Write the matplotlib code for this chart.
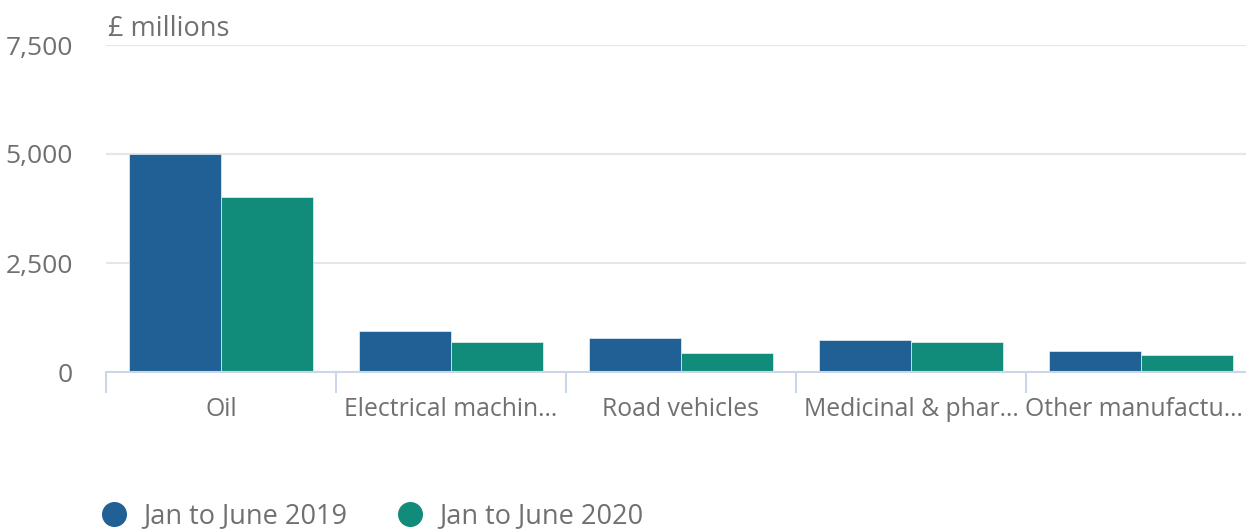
import numpy as np
import matplotlib
matplotlib.use("Agg")
import matplotlib.pyplot as plt
import matplotlib.transforms as mtransforms
from matplotlib.ticker import FuncFormatter, FixedLocator
from matplotlib.lines import Line2D

plt.rcParams["font.family"] = ["Open Sans", "DejaVu Sans"]

categories = ["Oil", "Electrical machin\u2026", "Road vehicles",
              "Medicinal & phar\u2026", "Other manufactu\u2026"]
jan_jun_2019 = [5000, 940, 780, 735, 480]
jan_jun_2020 = [4020, 690, 435, 690, 390]
series_names = ["Jan to June 2019", "Jan to June 2020"]
yticks = [0, 2500, 5000, 7500]

BLUE = "#206095"
GREEN = "#118c7b"
TXT = "#707070"
AXC = "#ccd6eb"
GRID = "#e6e6e6"

fig = plt.figure(figsize=(12.46, 5.30), dpi=100)
# plot area runs a little past the right edge of the image, as in the original
ax = fig.add_axes([106 / 1246, 1 - 372 / 530, 1150 / 1246, (372 - 45) / 530])

x = np.arange(len(categories))
w = 0.4
ax.bar(x - w / 2, jan_jun_2019, width=w, color=BLUE, edgecolor="white", linewidth=0.4, zorder=3)
ax.bar(x + w / 2, jan_jun_2020, width=w, color=GREEN, edgecolor="white", linewidth=0.4, zorder=3)

ax.set_xlim(-0.5, len(categories) - 0.5)
ax.set_ylim(0, 7500)
ax.set_yticks(yticks)
ax.yaxis.set_major_formatter(FuncFormatter(lambda v, p: f"{int(v):,}"))
ax.grid(axis="y", color=GRID, lw=1.5, zorder=0)
ax.set_axisbelow(True)

for s in ["top", "right", "left"]:
    ax.spines[s].set_visible(False)
ax.spines["bottom"].set_color(AXC)
ax.spines["bottom"].set_linewidth(1.5)
ax.spines["bottom"].set_zorder(4)

ax.tick_params(axis="y", length=0, pad=24, labelsize=19, labelcolor=TXT)
ax.set_xticks(x)
ax.set_xticklabels(categories)
ax.tick_params(axis="x", which="major", length=0, pad=18, labelsize=17.8, labelcolor=TXT)
ax.xaxis.set_minor_locator(FixedLocator(np.arange(len(categories)) - 0.5))
ax.tick_params(axis="x", which="minor", length=15, width=1.5, color=AXC)

# last label is pulled in so it stays inside the image
last = ax.get_xticklabels()[-1]
last.set_transform(last.get_transform() +
                   mtransforms.ScaledTranslation(-7 / 100, 0, fig.dpi_scale_trans))

fig.text(108 / 1246, 1 - 29 / 530, "\u00a3 millions", fontsize=19.5, color=TXT,
         ha="left", va="center")

handles = [Line2D([], [], marker="o", ls="", ms=17, color=c) for c in (BLUE, GREEN)]
fig.legend(handles, series_names, loc="center left", bbox_to_anchor=(100 / 1246, 1 - 516 / 530),
           ncol=2, frameon=False, fontsize=19.5, labelcolor=TXT, handletextpad=0.6,
           columnspacing=1.8, handlelength=1.0, borderpad=0, borderaxespad=0)

fig.savefig("out.png", dpi=100)
